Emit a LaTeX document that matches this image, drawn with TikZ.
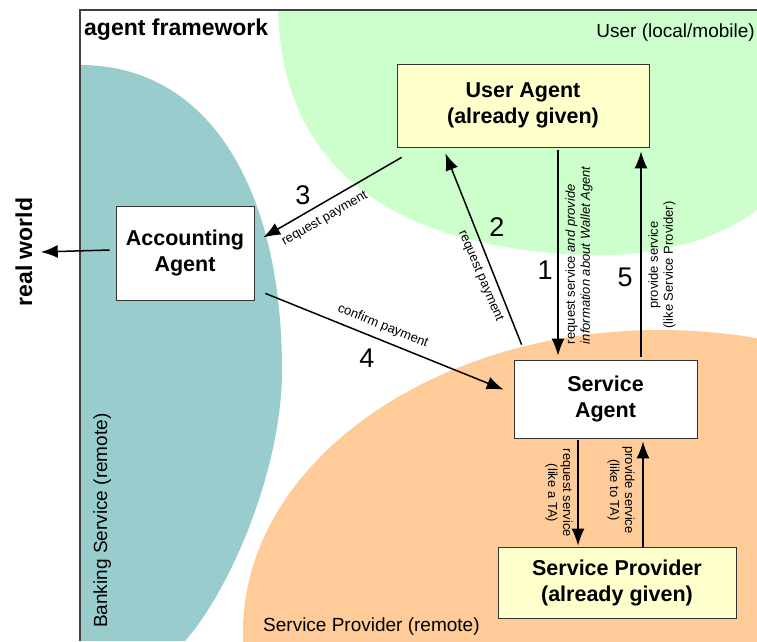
\documentclass[tikz,border=0pt]{standalone}
\usepackage{fontspec}
\setmainfont{Liberation Sans}
\usetikzlibrary{arrows.meta, positioning}

\definecolor{usergreen}{HTML}{CCFFCC}
\definecolor{bankteal}{HTML}{99CCCC}
\definecolor{provorange}{HTML}{FFCC99}
\definecolor{givenyellow}{HTML}{FFFFCC}

\newcommand{\labelsize}{\fontsize{13}{15}\selectfont}

\begin{document}
\begin{tikzpicture}[x=1pt, y=1pt, >={Latex[length=17pt, width=13pt]}]
  \tikzstyle{agent}=[draw=black!80, line width=0.8pt, align=center, inner sep=0pt,
                     font=\fontsize{21.5}{26}\selectfont\bfseries]
  \tikzstyle{given}=[agent, fill=givenyellow]
  \tikzstyle{msg}=[font=\labelsize, inner sep=0pt]
  \tikzstyle{stepnum}=[font=\fontsize{27}{27}\selectfont, inner sep=0pt]
  \tikzstyle{area}=[font=\fontsize{19}{22}\selectfont, inner sep=0pt]
  \tikzstyle{flow}=[->, line width=1.5pt, shorten >=1pt]

  \useasboundingbox (0,0) rectangle (757,-641);
  \clip (0,0) rectangle (757,-641);
  \fill[white] (0,0) rectangle (757,-641);

  % the three places inside the framework
  \begin{scope}
    \clip (80,-10) rectangle (757,-641);
    \fill[usergreen] (278,-10) .. controls (282,-160) and (380,-245) .. (580,-255)
                     .. controls (660,-258) and (720,-238) .. (757,-210) -- (757,-10) -- cycle;
    \fill[bankteal] (80,-65) .. controls (210,-65) and (282,-190) .. (282,-370)
                    .. controls (282,-470) and (230,-590) .. (185,-641) -- (80,-641) -- cycle;
    \fill[provorange] (660,-632) ellipse [x radius=417, y radius=302];
  \end{scope}
  \draw[black!75, line width=1.2pt] (80,-641) -- (80,-10) -- (757,-10);

  \node[area, font=\fontsize{23}{26}\selectfont\bfseries, anchor=base west] (fw) at (84,-35) {agent framework};
  \node[area, anchor=base east] (user) at (755,-37) {User (local/mobile)};
  \node[area, anchor=base west] (prov) at (263,-631) {Service Provider (remote)};
  \node[area, anchor=base west, rotate=90] (bank) at (107,-628) {Banking Service (remote)};
  \node[font=\fontsize{23}{26}\selectfont\bfseries, anchor=base, rotate=90] (rw) at (32,-252) {real world};

  % agents
  \node[given, minimum width=252pt, minimum height=83pt] (ua) at (523,-105.5) {User Agent\\(already given)};
  \node[agent, fill=white, minimum width=138pt, minimum height=94pt] (acc) at (185,-253) {Accounting\\Agent};
  \node[agent, fill=white, minimum width=183pt, minimum height=78pt] (sa) at (605.5,-399) {Service\\Agent};
  \node[given, minimum width=238pt, minimum height=71pt] (sp) at (617,-582.5) {Service Provider\\(already given)};

  % messages
  \draw[flow] ([shift={(35pt,-3pt)}]ua.south) -- ([shift={(-47.5pt,3pt)}]sa.north);
  \draw[flow] ([shift={(8pt,15pt)}]sa.north west) -- ([shift={(-78pt,-5pt)}]ua.south);
  \draw[flow] ([shift={(5pt,-10pt)}]ua.south west) -- ([shift={(8pt,15pt)}]acc.east);
  \draw[flow] ([shift={(11pt,7pt)}]acc.south east) -- ([shift={(-9pt,9pt)}]sa.west);
  \draw[flow] ([shift={(35.5pt,3pt)}]sa.north) -- ([shift={(118pt,-3pt)}]ua.south);
  \draw[flow] ([shift={(-27.5pt,-2pt)}]sa.south) -- ([shift={(-39pt,0pt)}]sp.north);
  \draw[flow] ([shift={(26pt,0pt)}]sp.north) -- ([shift={(37.5pt,-2pt)}]sa.south);
  \draw[flow] ([shift={(-6pt,3pt)}]acc.west) -- ([shift={(4pt,0pt)}]rw.south);

  \node[msg, rotate=90, align=left] (m1) at (579,-255) {request service \textit{and provide}\\\textit{information about Wallet Agent}};
  \node[msg, rotate=-67] (m2) at (480.5,-276) {request payment};
  \node[msg, rotate=30] (m3) at (325,-219) {request payment};
  \node[msg, rotate=-22] (m4) at (383,-326) {confirm payment};
  \node[msg, rotate=90, align=center] (m5) at (662,-265) {provide service\\(like Service Provider)};
  \node[msg, rotate=-90, align=center] (m6) at (559,-493) {request service\\(like a TA)};
  \node[msg, rotate=-90, align=center] (m7) at (621,-490) {provide service\\(like to TA)};

  \node[stepnum] (n1) at (545,-270) {1};
  \node[stepnum] (n2) at (497,-227) {2};
  \node[stepnum] (n3) at (303,-195) {3};
  \node[stepnum] (n4) at (367,-358) {4};
  \node[stepnum] (n5) at (625,-277) {5};
\end{tikzpicture}
\end{document}
